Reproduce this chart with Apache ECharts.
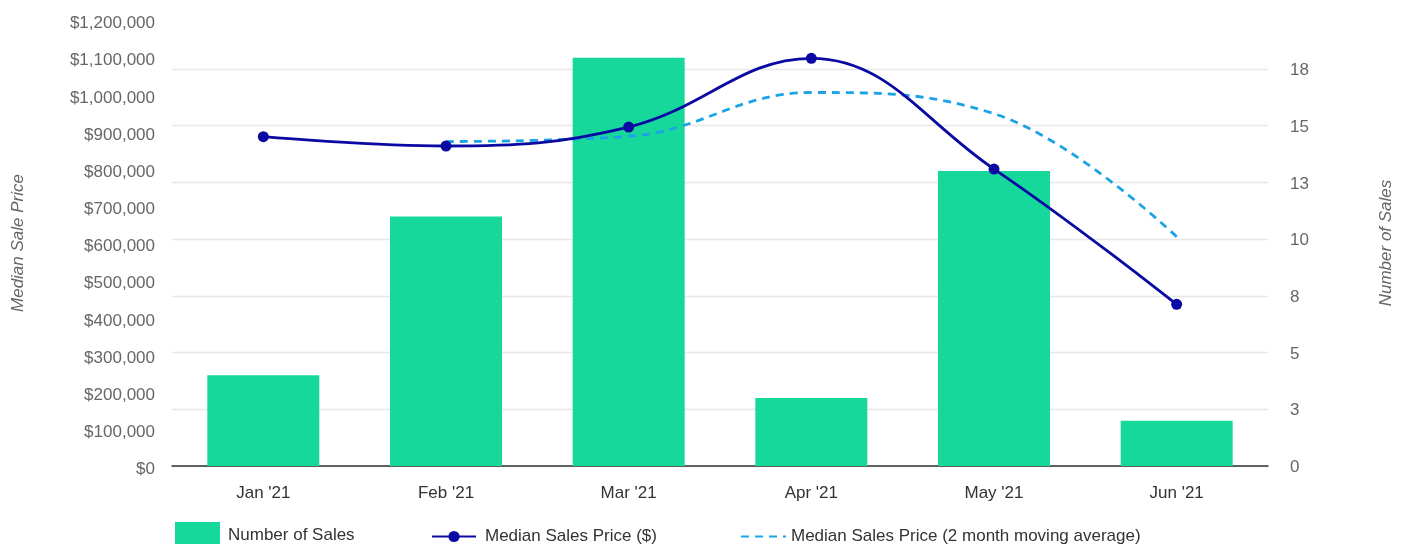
<!DOCTYPE html>
<html>
<head>
<meta charset="utf-8">
<script src="https://cdn.jsdelivr.net/npm/echarts@6/dist/echarts.min.js"></script>
<style>
  html, body { margin: 0; padding: 0; background: #fff; }
  #chart { width: 1403px; height: 544px; }
</style>
</head>
<body>
<div id="chart"></div>
<script>
// data
const months = ["Jan '21", "Feb '21", "Mar '21", "Apr '21", "May '21", "Jun '21"]
const numberOfSales = [4, 11, 18, 3, 13, 2]
const medianPrice = [886000, 861000, 912000, 1097000, 799000, 435000]
const movingAvg = [null, 873000, 887000, 1005000, 948000, 617000]

const priceTicks = { min: 0, max: 1200000, step: 100000 }
const salesTicks = { min: 0, max: 19.66, step: 2.5 }

const textColor = '#666'
const font = 'Liberation Sans, Arial, sans-serif'

const chart = echarts.init(document.getElementById('chart'))
chart.setOption({
  animation: false,
  textStyle: { fontFamily: font },
  grid: { left: 172, right: 135, top: 20, bottom: 78, containLabel: false, outerBoundsMode: 'none' },
  legend: [
    {
      data: [{ name: 'Number of Sales', icon: 'rect' }],
      left: 175, top: 522, padding: 0, itemWidth: 45, itemHeight: 26,
      textStyle: { color: '#333', fontSize: 17, padding: [0, 0, 0, 3] }
    },
    {
      data: ['Median Sales Price ($)'],
      left: 431, top: 528, padding: 0, itemWidth: 44, itemHeight: 14,
      textStyle: { color: '#333', fontSize: 17, padding: [0, 0, 0, 4] }
    },
    {
      data: ['Median Sales Price (2 month moving average)'],
      left: 740, top: 528, padding: 0, itemWidth: 45, itemHeight: 14,
      itemStyle: { opacity: 0 },
      textStyle: { color: '#333', fontSize: 17 }
    }
  ],
  xAxis: {
    type: 'category',
    data: months,
    axisLine: { lineStyle: { color: '#333', width: 1.5 } },
    axisTick: { show: false },
    axisLabel: { color: '#333', fontSize: 17, margin: 19 }
  },
  yAxis: [
    {
      type: 'value',
      min: priceTicks.min, max: priceTicks.max, interval: priceTicks.step,
      name: 'Median Sale Price',
      nameLocation: 'middle', nameRotate: 90, nameGap: 145,
      nameTextStyle: { color: textColor, fontSize: 17, fontStyle: 'italic' },
      axisLine: { show: false }, axisTick: { show: false },
      splitLine: { show: false },
      axisLabel: {
        color: textColor, fontSize: 17, margin: 17, verticalAlign: 'top', padding: [-5, 0, 0, 0],
        formatter: v => '$' + v.toLocaleString('en-US')
      }
    },
    {
      type: 'value',
      position: 'right',
      alignTicks: false,
      min: salesTicks.min, max: salesTicks.max, interval: salesTicks.step,
      name: 'Number of Sales',
      nameLocation: 'middle', nameRotate: 90, nameGap: 110,
      nameTextStyle: { color: textColor, fontSize: 17, fontStyle: 'italic' },
      axisLine: { show: false }, axisTick: { show: false },
      splitLine: { show: true, showMaxLine: false, lineStyle: { color: '#e8e8e8', width: 1.4 } },
      axisLabel: {
        color: textColor, fontSize: 17, margin: 22, showMaxLabel: false,
        verticalAlign: 'top', padding: [-7, 0, 0, 0],
        formatter: v => (v > 17.6 ? '' : String(Math.round(v)))
      }
    }
  ],
  series: [
    {
      name: 'Number of Sales',
      type: 'bar',
      yAxisIndex: 1,
      barWidth: 112,
      itemStyle: { color: '#17d89b' },
      data: numberOfSales
    },
    {
      name: 'Median Sales Price ($)',
      type: 'line',
      yAxisIndex: 0,
      smooth: 0.4,
      symbol: 'circle',
      symbolSize: 11,
      itemStyle: { color: '#0a0aa3' },
      lineStyle: { color: '#0a0aa3', width: 2.8 },
      z: 4,
      data: medianPrice
    },
    {
      name: 'Median Sales Price (2 month moving average)',
      type: 'line',
      yAxisIndex: 0,
      smooth: 0.4,
      symbol: 'none',
      itemStyle: { color: '#1ba3e6' },
      lineStyle: { color: '#1ba3e6', width: 2.8, type: [8, 6] },
      z: 3,
      data: movingAvg
    }
  ]
})
</script>
</body>
</html>
